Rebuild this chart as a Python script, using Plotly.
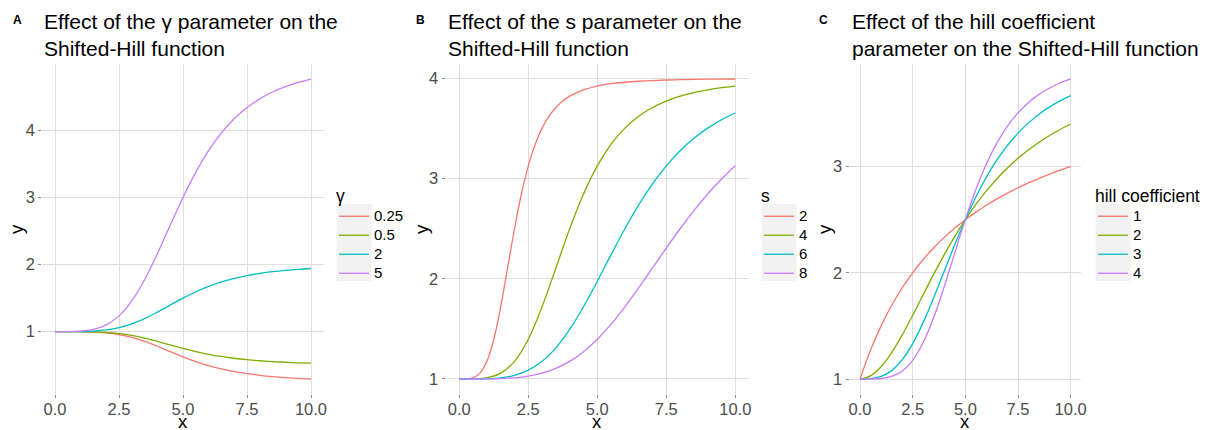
import plotly.graph_objects as go

# ---------------- data ----------------
x_vals = [0, 0.5, 1, 1.5, 2, 2.5, 3, 3.5, 4, 4.5, 5, 5.5, 6, 6.5, 7, 7.5, 8, 8.5, 9, 9.5, 10]
# finer sampling for the steep s = 2 curve
x_fine = [0, 0.25, 0.5, 0.75, 1, 1.25, 1.5, 1.75, 2, 2.25, 2.5, 2.75, 3, 3.25, 3.5, 3.75, 4,
          4.5, 5, 5.5, 6, 6.5, 7, 7.5, 8, 8.5, 9, 9.5, 10]

# Panel A: effect of gamma
gamma_levels = ["0.25", "0.5", "2", "5"]
a_g025 = [1, 0.9999, 0.9988, 0.994, 0.9813, 0.9559, 0.914, 0.8548, 0.782, 0.7029, 0.625,
          0.5544, 0.494, 0.4445, 0.4049, 0.3737, 0.3493, 0.3302, 0.3153, 0.3035, 0.2941]
a_g05 = [1, 1.0, 0.9992, 0.996, 0.9875, 0.9706, 0.9427, 0.9032, 0.8547, 0.8019, 0.75,
         0.7029, 0.6627, 0.6297, 0.6033, 0.5825, 0.5662, 0.5535, 0.5435, 0.5357, 0.5294]
a_g2 = [1, 1.0001, 1.0016, 1.008, 1.025, 1.059, 1.115, 1.194, 1.291, 1.396, 1.5,
        1.594, 1.675, 1.741, 1.794, 1.835, 1.868, 1.893, 1.913, 1.929, 1.941]
a_g5 = [1, 1.0004, 1.0064, 1.032, 1.100, 1.235, 1.459, 1.774, 2.162, 2.585, 3.0,
        3.377, 3.699, 3.963, 4.174, 4.340, 4.470, 4.572, 4.652, 4.715, 4.765]

# Panel B: effect of s
s_levels = ["2", "4", "6", "8"]
b_s2 = [1, 1.0007, 1.012, 1.058, 1.176, 1.397, 1.721, 2.109, 2.5, 2.847, 3.128, 3.344, 3.505,
        3.624, 3.711, 3.775, 3.824, 3.887, 3.925, 3.948, 3.963, 3.973, 3.980, 3.985, 3.988,
        3.991, 3.993, 3.994, 3.995]
b_s4 = [1, 1.0007, 1.0117, 1.058, 1.176, 1.397, 1.721, 2.109, 2.5, 2.847, 3.128,
        3.344, 3.505, 3.624, 3.711, 3.775, 3.824, 3.860, 3.887, 3.909, 3.925]
b_s6 = [1, 1.0001, 1.0023, 1.0117, 1.0366, 1.0878, 1.176, 1.311, 1.495, 1.721, 1.976,
        2.242, 2.5, 2.738, 2.948, 3.128, 3.279, 3.403, 3.505, 3.588, 3.656]
b_s8 = [1, 1.0, 1.0007, 1.0037, 1.0117, 1.0284, 1.0582, 1.106, 1.176, 1.273, 1.397,
        1.548, 1.721, 1.911, 2.109, 2.307, 2.5, 2.681, 2.847, 2.996, 3.128]

# Panel C: effect of the hill coefficient
n_levels = ["1", "2", "3", "4"]
c_n1 = [1, 1.273, 1.5, 1.692, 1.857, 2.0, 2.125, 2.235, 2.333, 2.421, 2.5,
        2.571, 2.636, 2.696, 2.75, 2.8, 2.846, 2.889, 2.929, 2.966, 3.0]
c_n2 = [1, 1.030, 1.115, 1.248, 1.414, 1.6, 1.794, 1.987, 2.171, 2.343, 2.5,
        2.643, 2.771, 2.885, 2.986, 3.077, 3.157, 3.229, 3.292, 3.349, 3.4]
c_n3 = [1, 1.003, 1.024, 1.079, 1.180, 1.333, 1.533, 1.766, 2.016, 2.265, 2.5,
        2.713, 2.900, 3.062, 3.199, 3.314, 3.411, 3.493, 3.561, 3.618, 3.667]
c_n4 = [1, 1.0003, 1.0048, 1.024, 1.075, 1.176, 1.344, 1.581, 1.872, 2.189, 2.5,
        2.783, 3.024, 3.222, 3.381, 3.505, 3.603, 3.679, 3.739, 3.786, 3.824]

x_ticks = [0, 2.5, 5, 7.5, 10]
x_tick_labels = ["0.0", "2.5", "5.0", "7.5", "10.0"]
a_y_ticks = [1, 2, 3, 4]
b_y_ticks = [1, 2, 3, 4]
c_y_ticks = [1, 2, 3]

titles = ["Effect of the γ parameter on the<br>Shifted-Hill function",
          "Effect of the s parameter on the<br>Shifted-Hill function",
          "Effect of the hill coefficient<br>parameter on the Shifted-Hill function"]
panel_tags = ["A", "B", "C"]
legend_titles = ["γ", "s", "hill coefficient"]
x_title = "x"
y_title = "y"

# ---------------- styling ----------------
colors = ["#F8766D", "#7CAE00", "#00BFC4", "#C77CFF"]
FONT = "Liberation Sans, Arial, sans-serif"
W, H = 1211, 430
BOTTOM = 394            # pixel row of the bottom of the panels (plot area ends here)
MB = H - BOTTOM         # bottom margin holds the x tick labels and x titles


def py(px):
    """pixel row (from top) -> paper y fraction (paper = area above the bottom margin)"""
    return (BOTTOM - px) / BOTTOM


x_domains = [[42.2 / W, 323.8 / W], [445.5 / W, 749.1 / W], [849.5 / W, 1081.2 / W]]
y_domain = [0, py(64)]
y_ranges = [[0.0705, 4.989], [0.85, 4.145], [0.859, 3.965]]
legend_px = [334, 759, 1093]
ytitle_px = [16, 421, 824]
LEG_TOP = 179

fig = go.Figure()

panels = [
    (gamma_levels, [x_vals] * 4, [a_g025, a_g05, a_g2, a_g5]),
    (s_levels, [x_fine, x_vals, x_vals, x_vals], [b_s2, b_s4, b_s6, b_s8]),
    (n_levels, [x_vals] * 4, [c_n1, c_n2, c_n3, c_n4]),
]

for p, (levels, xs, series) in enumerate(panels):
    suffix = "" if p == 0 else str(p + 1)
    for k, (lab, xv, yv) in enumerate(zip(levels, xs, series)):
        fig.add_trace(go.Scatter(
            x=xv, y=yv, mode="lines",
            name='<span style="font-size:15px">' + lab + "</span>",
            line=dict(color=colors[k], width=1.3, shape="spline", smoothing=1.0),
            xaxis="x" + suffix, yaxis="y" + suffix,
            legend="legend" + suffix, showlegend=True,
        ))

axis_common = dict(
    automargin=False,
    showline=False, zeroline=False, showgrid=True, gridcolor="#DEDEDE", gridwidth=1,
    ticks="outside", ticklen=3, tickwidth=1, tickcolor="#8A8A8A",
    tickfont=dict(family=FONT, size=16.5, color="#4D4D4D"),
)

layout = dict(
    width=W, height=H, margin=dict(l=0, r=0, t=0, b=MB, autoexpand=False),
    paper_bgcolor="white", plot_bgcolor="white",
    font=dict(family=FONT, color="#000000"),
    annotations=[], shapes=[],
)

y_tick_sets = [a_y_ticks, b_y_ticks, c_y_ticks]
for p in range(3):
    suffix = "" if p == 0 else str(p + 1)
    layout["xaxis" + suffix] = dict(
        axis_common, domain=x_domains[p], range=[-0.5, 10.5],
        tickvals=x_ticks, ticktext=x_tick_labels, anchor="y" + suffix,
        ticklabelstandoff=-3,
    )
    layout["yaxis" + suffix] = dict(
        axis_common, domain=y_domain, range=y_ranges[p],
        tickvals=y_tick_sets[p], anchor="x" + suffix,
    )
    layout["legend" + suffix] = dict(
        x=legend_px[p] / W, xanchor="left", y=py(LEG_TOP), yanchor="top",
        bgcolor="rgba(0,0,0,0)", borderwidth=0,
        font=dict(family=FONT, size=11, color="#000000"),
        title=dict(text=legend_titles[p], font=dict(family=FONT, size=17.5, color="#000000")),
        tracegroupgap=0,
    )
    # grey key background (ggplot legend key style)
    layout["shapes"].append(dict(
        type="rect", xref="paper", yref="paper", layer="below",
        x0=(legend_px[p] + 2.5) / W, x1=(legend_px[p] + 37.5) / W,
        y0=py(281), y1=py(204),
        fillcolor="#F2F2F2", line=dict(width=0),
    ))
    # axis titles
    layout["annotations"].append(dict(
        text=x_title, xref="paper", yref="paper",
        x=sum(x_domains[p]) / 2, y=py(421), xanchor="center", yanchor="middle",
        showarrow=False, font=dict(family=FONT, size=18.5, color="#000000"),
    ))
    layout["annotations"].append(dict(
        text=y_title, xref="paper", yref="paper", textangle=-90,
        x=ytitle_px[p] / W, y=py(229), xanchor="center", yanchor="middle",
        showarrow=False, font=dict(family=FONT, size=18.5, color="#000000"),
    ))
    # title
    layout["annotations"].append(dict(
        text=titles[p], xref="paper", yref="paper",
        x=x_domains[p][0], y=py(35), xanchor="left", yanchor="middle",
        align="left", showarrow=False,
        font=dict(family=FONT, size=21, color="#000000"),
    ))
    # panel tag
    tag_x = [11, 414, 817][p]
    layout["annotations"].append(dict(
        text="<b>" + panel_tags[p] + "</b>", xref="paper", yref="paper",
        x=tag_x / W, y=py(19.5), xanchor="left", yanchor="middle",
        showarrow=False, font=dict(family=FONT, size=12, color="#000000"),
    ))

fig.update_layout(**layout)
fig.write_html("out.html")
